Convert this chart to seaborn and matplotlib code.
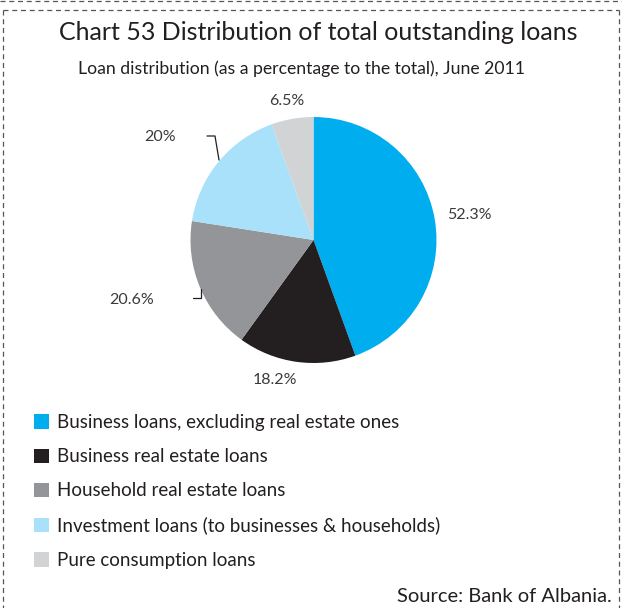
import matplotlib
matplotlib.use("Agg")
import matplotlib.pyplot as plt
import matplotlib.patches as mpatches
import seaborn as sns

# Loan distribution, June 2011 (values as published)
categories = [
    "Business loans, excluding real estate ones",
    "Business real estate loans",
    "Household real estate loans",
    "Investment loans (to businesses & households)",
    "Pure consumption loans",
]
shares = [52.3, 18.2, 20.6, 20.0, 6.5]
share_labels = ["52.3%", "18.2%", "20.6%", "20%", "6.5%"]
colors = ["#00AEEF", "#231F20", "#939598", "#A8E1F9", "#D1D3D4"]

sns.set_theme(style="white")
plt.rcParams["font.family"] = ["Lato", "DejaVu Sans"]
plt.rcParams["font.weight"] = "normal"
TXT = "#231F20"

W, H = 622, 608
fig = plt.figure(figsize=(W / 100, H / 100), dpi=100)

# Pie axes: centre at (313.5, 240) px, radius 123 px, data range +-1.5
R = 123
half = 1.5 * R
cx, cy = 313.5, 240
ax = fig.add_axes([(cx - half) / W, (H - cy - half) / H, 2 * half / W, 2 * half / H])

wedges, _ = ax.pie(shares, colors=colors, startangle=90, counterclock=False,
                   radius=1.0, wedgeprops=dict(linewidth=0))
ax.set_xlim(-1.5, 1.5)
ax.set_ylim(-1.5, 1.5)
ax.set_aspect("equal")
ax.axis("off")

# Value labels placed around the pie
label_pos = [(1.27, 0.20), (-0.31, -1.14), (-1.48, -0.49), (-1.25, 0.84), (-0.22, 1.13)]
for (x, y), txt in zip(label_pos, share_labels):
    ax.text(x, y, txt, ha="center", va="center", fontsize=11.5, color="#3a3a3a")

# Leader lines for the two left-hand labels
def px(x, y):
    return ((x - cx) / R, (cy - y) / R)

for pts in ([(207, 136), (215, 136), (219, 160)], [(193, 298), (201, 298), (201, 289)]):
    xs, ys = zip(*[px(*p) for p in pts])
    ax.plot(xs, ys, color=TXT, lw=0.9, clip_on=False)

# Title and subtitle
fig.text(318 / W, 1 - 40 / H, "Chart 53 Distribution of total outstanding loans",
         ha="center", va="baseline", fontsize=18, color=TXT)
fig.text(301.5 / W, 1 - 74.3 / H, "Loan distribution (as a percentage to the total), June 2011",
         ha="center", va="baseline", fontsize=12.7, color=TXT)

# Legend
handles = [mpatches.Patch(facecolor=c, edgecolor="none", label=l) for c, l in zip(colors, categories)]
fig.legend(handles=handles, loc="upper left", bbox_to_anchor=(34 / W, 1 - 414 / H),
           frameon=False, fontsize=13.5, handlelength=0.8, handleheight=0.8,
           handletextpad=0.41, labelspacing=0.92, borderpad=0, borderaxespad=0,
           labelcolor=TXT)

# Source note
fig.text(612 / W, 1 - 601.7 / H, "Source: Bank of Albania.", ha="right", va="baseline",
         fontsize=14.5, color=TXT)

# Dashed frame
frame_kw = dict(color="#555555", lw=0.9, ls=(0, (4, 3)), transform=fig.transFigure)
fig.add_artist(plt.Line2D([3 / W, 619 / W], [1 - 10 / H, 1 - 10 / H], **frame_kw))
fig.add_artist(plt.Line2D([3 / W, 3 / W], [1 - 10 / H, 0], **frame_kw))
fig.add_artist(plt.Line2D([619 / W, 619 / W], [1 - 10 / H, 0], **frame_kw))
fig.add_artist(plt.Line2D([0, 622 / W], [1 - 1 / H, 1 - 1 / H], **frame_kw))

fig.savefig("out.png", dpi=100, facecolor="white")
